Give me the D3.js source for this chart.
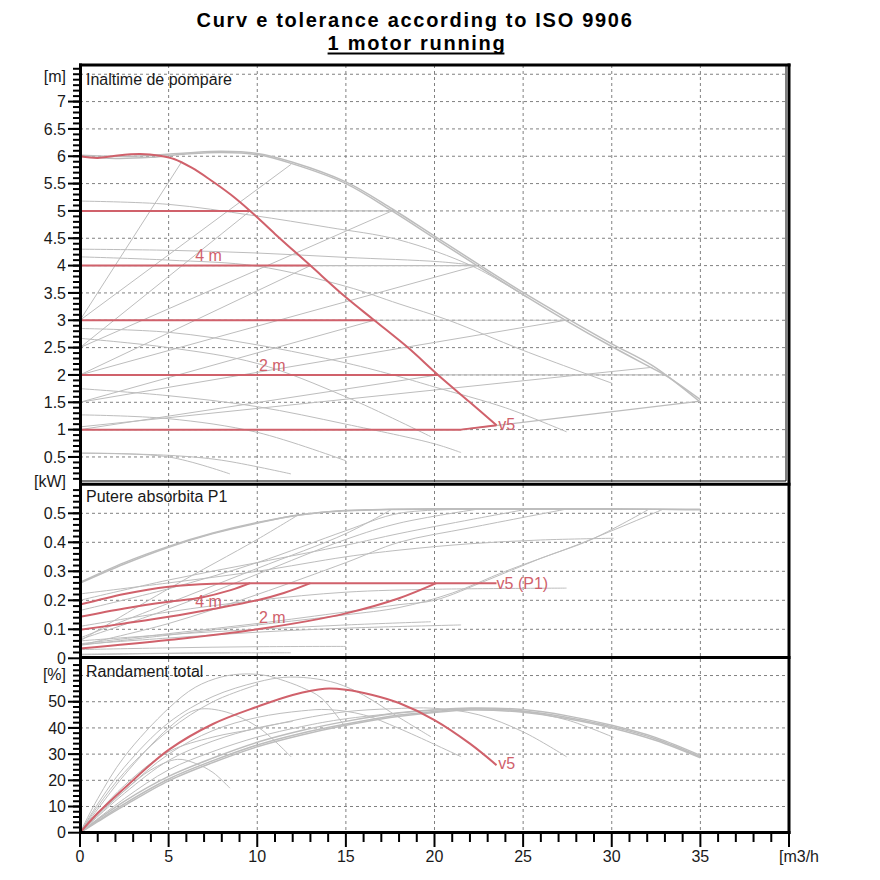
<!DOCTYPE html>
<html>
<head>
<meta charset="utf-8">
<script src="https://cdn.jsdelivr.net/npm/d3@7"></script>
<style>
  body { margin: 0; background: #fff; }
  svg { display: block; }
</style>
</head>
<body>
<svg></svg>
<script>
const width = 880;
const height = 880;

// axis ticks
const flowTicks = [0, 5, 10, 15, 20, 25, 30, 35];
const headTicks = [0.5, 1, 1.5, 2, 2.5, 3, 3.5, 4, 4.5, 5, 5.5, 6, 6.5, 7];
const powerTicks = [0, 0.1, 0.2, 0.3, 0.4, 0.5];
const effTicks = [0, 10, 20, 30, 40, 50];

// ---- head [m] vs flow [m3/h] ----
const redHeadMax = [[0, 6.0], [1, 5.97], [2, 6.01], [3.4, 6.04], [4.5, 6.01], [5.3, 5.95], [6.3, 5.79], [7.3, 5.58], [8.5, 5.3], [9.6, 5.0], [11, 4.58], [13, 4.0], [15, 3.42], [16.6, 3.0], [18.5, 2.5], [20.2, 2.0], [22, 1.5], [23.5, 1.08]];
const redSetHeads = [5, 4, 3, 2];
const redSetEnds = [9.6, 13.0, 16.6, 20.2];
const redLowLine = [[0, 1], [21.5, 1], [23.5, 1.08]];

const grayHeadMax = [[0, 6.0], [2, 5.96], [4, 5.98], [6, 6.04], [8, 6.07], [10, 6.03], [12, 5.86], [15, 5.5], [17.6, 5.0], [20, 4.5], [22.4, 4.0], [25, 3.47], [27.4, 3.0], [30, 2.52], [32.3, 2.12], [33.1, 1.98], [35, 1.55]];
const grayHeadMaxB = [[0, 6.02], [3, 6.0], [6, 6.06], [8, 6.09], [10, 6.05], [12, 5.89], [15, 5.53], [17.6, 5.04], [20, 4.54], [22.4, 4.04], [25, 3.51], [27.4, 3.05], [30, 2.57], [32.3, 2.17], [35, 1.5]];
const graySetEnds = [17.6, 22.4, 27.4, 33.1];
const grayLowLine = [[0, 1], [21.5, 1], [35, 1.52]];

const grayRiseHead = [
  [[0, 3.0], [5.7, 5.88]],
  [[0, 3.0], [11.9, 5.85]],
  [[0, 2.5], [9.6, 5.0]],
  [[0, 2.5], [17.6, 5.0]],
  [[0, 2.0], [13.0, 4.0]],
  [[0, 2.0], [22.4, 4.0]],
  [[0, 1.5], [16.6, 3.0]],
  [[0, 1.5], [27.4, 3.0]],
  [[0, 1.0], [20.2, 2.0]],
  [[0, 1.05], [32.3, 2.14]]
];

const headA = [[0, 5.18], [5, 5.12], [9.7, 4.92], [14, 4.7], [18, 4.47], [22.2, 3.98], [25.2, 3.42]];
const headB = [[0, 4.16], [5, 4.1], [10, 3.99], [15, 3.62], [18, 3.3], [20.8, 3.0], [25, 2.45], [30, 1.85]];
const headC = [[0, 4.3], [5, 4.28], [10, 4.23], [15, 4.15], [20.3, 4.07], [22.4, 4.0]];
const headD = [[0, 2.85], [5, 2.78], [10, 2.55], [15, 2.22], [18, 1.97], [20, 1.78], [24, 1.4], [27.45, 0.96]];
const headE = [[0, 2.67], [5, 2.5], [10, 2.21], [15, 1.6], [19.8, 0.87]];
const headF = [[0, 1.75], [5, 1.62], [10, 1.42], [15, 1.1], [20, 0.74], [21.5, 0.58]];
const headG = [[0, 1.27], [5, 1.2], [10, 0.95], [15, 0.43]];
const headH = [[0, 0.57], [5, 0.5], [8.46, 0.19]];
const headI = [[0, 0.57], [5, 0.53], [8, 0.44], [11.9, 0.19]];

// ---- power P1 [kW] vs flow ----
const redPowMax = [[0, 0.185], [2.5, 0.222], [5, 0.247], [7.5, 0.257], [9.6, 0.259], [23.5, 0.259]];
const redPow5 = [[0, 0.143], [2.5, 0.172], [5, 0.195], [6.8, 0.209], [8.5, 0.235], [9.6, 0.259]];
const redPow4 = [[0, 0.098], [2.5, 0.12], [5, 0.143], [7.5, 0.17], [10, 0.2], [11.5, 0.225], [13, 0.259]];
const redPow2 = [[0, 0.034], [5, 0.063], [10, 0.1], [15, 0.155], [18, 0.207], [20.1, 0.259]];

const grayPowMax = [[0, 0.259], [2.5, 0.325], [5, 0.383], [7.5, 0.43], [10, 0.466], [12.3, 0.494], [15, 0.509], [20, 0.514], [35, 0.514]];
const grayPowMaxB = [[0, 0.262], [2.5, 0.33], [5, 0.386], [7.5, 0.432], [10, 0.468], [12.5, 0.495], [15, 0.51], [20, 0.516], [30, 0.516], [35, 0.512]];
const powRise1 = [[0, 0.06], [5, 0.24], [10, 0.41], [12.3, 0.494]];
const powRise2 = [[0, 0.07], [5, 0.19], [10, 0.31], [15, 0.43], [17.6, 0.514]];
const powRise3 = [[0, 0.065], [5, 0.17], [10, 0.29], [15, 0.41], [18, 0.466], [22.4, 0.514]];
const powRise4 = [[0, 0.05], [5, 0.085], [10, 0.12], [15, 0.16], [18, 0.185], [20, 0.2], [23, 0.27], [26, 0.345], [28.8, 0.408], [32.1, 0.514]];
const powRise5 = [[0, 0.045], [5, 0.08], [10, 0.115], [15, 0.15], [18, 0.175], [21, 0.225], [24, 0.3], [28, 0.39], [32.9, 0.514]];
const powRise6 = [[0, 0.045], [5, 0.12], [10, 0.22], [15, 0.33], [18, 0.4], [22, 0.45], [27.4, 0.514]];
const powA = [[0, 0.2], [5, 0.27], [10, 0.33], [15, 0.39], [18, 0.43], [22.2, 0.48], [25.2, 0.514]];
const powB = [[0, 0.222], [5, 0.26], [10, 0.3], [15, 0.35], [18, 0.373], [22, 0.395], [26, 0.408], [30.1, 0.414]];
const powC = [[0, 0.165], [5, 0.24], [10, 0.33], [15, 0.44], [18, 0.5], [22.4, 0.514]];
const powD = [[0, 0.11], [5, 0.16], [10, 0.2], [15, 0.228], [20, 0.238], [27.45, 0.242]];
const powE = [[0, 0.06], [5, 0.082], [10, 0.1], [15, 0.115], [19.8, 0.126]];
const powF = [[0, 0.048], [5, 0.07], [10, 0.09], [15, 0.104], [21.5, 0.115]];
const powG = [[0, 0.03], [5, 0.036], [10, 0.04], [15, 0.041]];
const powH = [[0, 0.012], [4, 0.016], [8.46, 0.019]];
const powI = [[0, 0.014], [6, 0.018], [11.9, 0.019]];

// ---- total efficiency [%] vs flow ----
const redEff = [[0, 0], [1, 7.5], [2.5, 17], [5, 31.6], [7.5, 41.5], [10, 48.1], [12, 52.6], [13.8, 55], [15, 54.6], [16.5, 52.6], [18, 49.5], [20, 43], [22, 34], [23.5, 25.8]];
const grayEffMax = [[0, 0], [1, 4.5], [2.5, 11], [5, 20.5], [7.5, 27.5], [10, 33.5], [12.5, 38], [15, 41.5], [17.5, 44.5], [20, 46.3], [22, 47.2], [25, 46.5], [27.5, 44], [30, 40.5], [32.5, 35.8], [35, 29]];
const grayEffMaxB = [[0, 0], [1, 5], [2.5, 12], [5, 21.5], [7.5, 28.5], [10, 34.5], [12.5, 39], [15, 42.5], [17.5, 45.3], [20, 46.9], [22, 47.6], [25, 47], [27.5, 44.6], [30, 41], [32.5, 36.3], [35, 29.5]];
const grayEffMaxC = [[0, 0], [1, 4.2], [2.5, 10.3], [5, 19.8], [7.5, 26.8], [10, 32.8], [12.5, 37.3], [15, 41], [17.5, 44], [20, 45.9], [22, 46.8], [25, 46], [27.5, 43.5], [30, 40], [32.5, 35.2], [35, 28.6]];
const effG = [[0, 0], [1, 13], [2.5, 29], [5, 47.5], [6.5, 55.5], [8, 59.5], [9.3, 60.6], [10.5, 60], [11.3, 58.5], [12.5, 55.5], [13.6, 51.5], [15, 40]];
const effE = [[0, 0], [1, 11], [2.5, 25], [5, 42], [7.5, 52], [10, 57.5], [11.5, 59.3], [13, 59], [14.5, 57], [16, 52.5], [18, 44], [19.8, 36.6]];
const effV = [[0, 0], [1, 10], [2.5, 23], [5, 39], [7.5, 50], [10, 56.5]];
const effI = [[0, 0], [1, 9], [2.5, 22], [5, 40], [6.5, 46.8], [8, 46.5], [10, 40.5], [11.9, 29]];
const effH = [[0, 0], [1, 7], [2.5, 16], [4, 24], [5.5, 28], [6.5, 26.5], [7.5, 23], [8.46, 17]];
const effF = [[0, 0], [2.5, 16], [5, 30], [7.5, 39], [10, 44], [12.5, 46.5], [14, 47], [16, 45], [18, 39.8], [21.5, 29]];
const effD = [[0, 0], [2.5, 18], [5, 30.9], [7.5, 36.5], [10, 39.8], [12.5, 43.5], [15, 46.2], [17.5, 47.3], [20, 47.5], [22.5, 45], [25, 38.5], [27.45, 29]];
const effB = [[0, 0], [2.5, 13], [5, 24], [7.5, 31], [10, 36.5], [12.5, 40.5], [15, 43.5], [20, 46.8], [22.5, 47.3], [25, 46.3], [27.5, 43], [30.1, 36.4]];
const effR1 = [[0, 0], [2.5, 15], [5, 27.6], [7.5, 35], [10, 40], [12, 42.5]];

const svg = d3.select("svg")
  .attr("width", width)
  .attr("height", height)
  .style("font-family", '"Liberation Sans", Arial, sans-serif');

const red = "#d0616b";
const gray = "#bdbdbd";

const x = d3.scaleLinear().domain([0, 40]).range([80, 789]);
const yH = d3.scaleLinear().domain([0, 7.7]).range([484.3, 63.3]);
const yP = d3.scaleLinear().domain([0, 0.6]).range([658.3, 484.3]);
const yE = d3.scaleLinear().domain([0, 67]).range([832.7, 657.2]);

const panels = [
  { id: "ph", y: yH, top: 65, bottom: 482 },
  { id: "pp", y: yP, top: 484, bottom: 658 },
  { id: "pe", y: yE, top: 658, bottom: 833 }
];

const defs = svg.append("defs");
panels.forEach(p => {
  defs.append("clipPath").attr("id", p.id)
    .append("rect")
    .attr("x", x(0)).attr("y", p.top)
    .attr("width", x(40) - x(0)).attr("height", p.bottom - p.top);
});

// title
svg.append("text")
  .attr("x", 415).attr("y", 27)
  .attr("text-anchor", "middle")
  .style("font-size", "20px").style("font-weight", "bold")
  .style("letter-spacing", "1.7px")
  .text("Curv e tolerance according to ISO 9906");

const title2 = svg.append("text")
  .attr("x", 417).attr("y", 50)
  .attr("text-anchor", "middle")
  .style("font-size", "20px").style("font-weight", "bold")
  .style("letter-spacing", "1.7px")
  .text("1 motor running");
const tb = title2.node().getBBox();
svg.append("line")
  .attr("x1", tb.x).attr("x2", tb.x + tb.width - 2)
  .attr("y1", 53.5).attr("y2", 53.5)
  .attr("stroke", "#000").attr("stroke-width", 2);

// grid
const grid = svg.append("g")
  .attr("stroke", "#808080")
  .attr("stroke-width", 1)
  .attr("stroke-dasharray", "3,3");

grid.selectAll(".vx")
  .data(flowTicks.filter(d => d > 0))
  .enter().append("line")
  .attr("x1", d => x(d)).attr("x2", d => x(d))
  .attr("y1", 65).attr("y2", 833);

grid.selectAll(".hh")
  .data(headTicks.concat([7.5]))
  .enter().append("line")
  .attr("x1", x(0)).attr("x2", x(40))
  .attr("y1", d => yH(d)).attr("y2", d => yH(d));

grid.selectAll(".hp")
  .data(powerTicks.filter(d => d > 0))
  .enter().append("line")
  .attr("x1", x(0)).attr("x2", x(40))
  .attr("y1", d => yP(d)).attr("y2", d => yP(d));

grid.selectAll(".he")
  .data(effTicks.filter(d => d > 0).concat([60]))
  .enter().append("line")
  .attr("x1", x(0)).attr("x2", x(40))
  .attr("y1", d => yE(d)).attr("y2", d => yE(d));

function drawCurves(panel, curves, color, w, curve = d3.curveCatmullRom.alpha(0.5)) {
  const line = d3.line()
    .x(d => x(d[0]))
    .y(d => panel.y(d[1]))
    .curve(curve);
  svg.append("g")
    .attr("clip-path", `url(#${panel.id})`)
    .selectAll("path")
    .data(curves)
    .enter().append("path")
    .attr("d", line)
    .attr("fill", "none")
    .attr("stroke", color)
    .attr("stroke-width", w)
    .attr("stroke-linejoin", "round");
}

const [pH, pP, pE] = panels;

// head panel
const grayFlat = redSetHeads.map((h, i) => [[0, h], [graySetEnds[i], h]]);
drawCurves(pH, grayFlat.concat([grayLowLine]), gray, 1.2, d3.curveLinear);
drawCurves(pH, grayRiseHead, gray, 1, d3.curveLinear);
drawCurves(pH, [headA, headB, headC, headD, headE, headF, headG, headH, headI], gray, 1);
drawCurves(pH, [grayHeadMax, grayHeadMaxB], gray, 1.5);
const redFlat = redSetHeads.map((h, i) => [[0, h], [redSetEnds[i], h]]);
drawCurves(pH, redFlat.concat([redLowLine]), red, 2, d3.curveLinear);
drawCurves(pH, [redHeadMax], red, 2);

// power panel
drawCurves(pP, [powRise1, powRise2, powRise3, powRise4, powRise5, powRise6, powA, powB, powC, powD, powE, powF, powG, powH, powI], gray, 1);
drawCurves(pP, [grayPowMax, grayPowMaxB], gray, 1.5, d3.curveMonotoneX);
drawCurves(pP, [redPow5, redPow4, redPow2], red, 2);
drawCurves(pP, [redPowMax], red, 2, d3.curveMonotoneX);

// efficiency panel
drawCurves(pE, [effG, effE, effV, effI, effH, effF, effD, effB, effR1], gray, 1);
drawCurves(pE, [grayEffMax, grayEffMaxB, grayEffMaxC], gray, 1.5);
drawCurves(pE, [redEff], red, 2);

// curve labels
const redLabels = [
  { t: "4 m", q: 6.5, p: pH, v: 4.08 },
  { t: "2 m", q: 10.1, p: pH, v: 2.08 },
  { t: "v5", q: 23.6, p: pH, v: 1.0 },
  { t: "4 m", q: 6.5, p: pP, v: 0.176 },
  { t: "2 m", q: 10.1, p: pP, v: 0.121 },
  { t: "v5 (P1)", q: 23.5, p: pP, v: 0.239 },
  { t: "v5", q: 23.6, p: pE, v: 24.5 }
];
svg.append("g").selectAll("text")
  .data(redLabels)
  .enter().append("text")
  .attr("x", d => x(d.q))
  .attr("y", d => d.p.y(d.v))
  .attr("fill", red)
  .style("font-size", "16px")
  .text(d => d.t);

// panel titles
const panelTitles = [
  { t: "Inaltime de pompare", y: 85 },
  { t: "Putere absorbita P1", y: 502 },
  { t: "Randament total", y: 677 }
];
svg.append("g").selectAll("text")
  .data(panelTitles)
  .enter().append("text")
  .attr("x", 86).attr("y", d => d.y)
  .attr("fill", "#1a1a1a")
  .style("font-size", "16px")
  .text(d => d.t);

// y axes
function yAxis(scale, major, minor, fmt) {
  const g = svg.append("g").attr("stroke", "#000").attr("stroke-width", 2);
  g.selectAll(".mi").data(minor).enter().append("line")
    .attr("x1", 73).attr("x2", 80)
    .attr("y1", d => scale(d)).attr("y2", d => scale(d));
  g.selectAll(".ma").data(major).enter().append("line")
    .attr("x1", 68).attr("x2", 80)
    .attr("y1", d => scale(d)).attr("y2", d => scale(d));
  svg.append("g").selectAll("text").data(major).enter().append("text")
    .attr("x", 66).attr("y", d => scale(d))
    .attr("dy", "0.36em")
    .attr("text-anchor", "end")
    .attr("fill", "#1a1a1a")
    .style("font-size", "16px")
    .text(fmt);
}

yAxis(yH, headTicks, d3.range(1, 77).map(d => d / 10), d => d);
yAxis(yP, powerTicks, d3.range(1, 30).map(d => d / 50), d => d);
yAxis(yE, effTicks, d3.range(1, 33).map(d => d * 2), d => d);

const unitLabels = [
  { t: "[m]", y: 76.5 },
  { t: "[kW]", y: 481 },
  { t: "[%]", y: 674 }
];
svg.append("g").selectAll("text")
  .data(unitLabels)
  .enter().append("text")
  .attr("x", 66).attr("y", d => d.y)
  .attr("dy", "0.36em")
  .attr("text-anchor", "end")
  .attr("fill", "#1a1a1a")
  .style("font-size", "16px")
  .text(d => d.t);

// x axis
const xg = svg.append("g").attr("stroke", "#000").attr("stroke-width", 2);
xg.selectAll(".mi").data(d3.range(1, 40).filter(d => d % 5 !== 0)).enter().append("line")
  .attr("x1", d => x(d)).attr("x2", d => x(d))
  .attr("y1", 833).attr("y2", 842);
xg.selectAll(".ma").data(flowTicks.concat([40])).enter().append("line")
  .attr("x1", d => x(d)).attr("x2", d => x(d))
  .attr("y1", 833).attr("y2", 847);

svg.append("g").selectAll("text")
  .data(flowTicks)
  .enter().append("text")
  .attr("x", d => x(d)).attr("y", 862)
  .attr("text-anchor", "middle")
  .attr("fill", "#1a1a1a")
  .style("font-size", "16px")
  .text(d => d);

svg.append("text")
  .attr("x", 779).attr("y", 862)
  .attr("fill", "#1a1a1a")
  .style("font-size", "16px")
  .text("[m3/h");

// frame
const frame = svg.append("g").attr("stroke", "#000");
const thick = [
  [79, 65, 790.5, 65],
  [80.5, 63.5, 80.5, 834],
  [789, 63.5, 789, 834],
  [79, 484.3, 790.5, 484.3],
  [79, 657.6, 790.5, 657.6],
  [79, 832.6, 790.5, 832.6]
];
frame.selectAll(".tk").data(thick).enter().append("line")
  .attr("x1", d => d[0]).attr("y1", d => d[1])
  .attr("x2", d => d[2]).attr("y2", d => d[3])
  .attr("stroke-width", 3);
const thin = [
  [80, 481, 786, 481],
  [786, 65, 786, 481]
];
frame.selectAll(".tn").data(thin).enter().append("line")
  .attr("x1", d => d[0]).attr("y1", d => d[1])
  .attr("x2", d => d[2]).attr("y2", d => d[3])
  .attr("stroke-width", 1);
</script>
</body>
</html>
